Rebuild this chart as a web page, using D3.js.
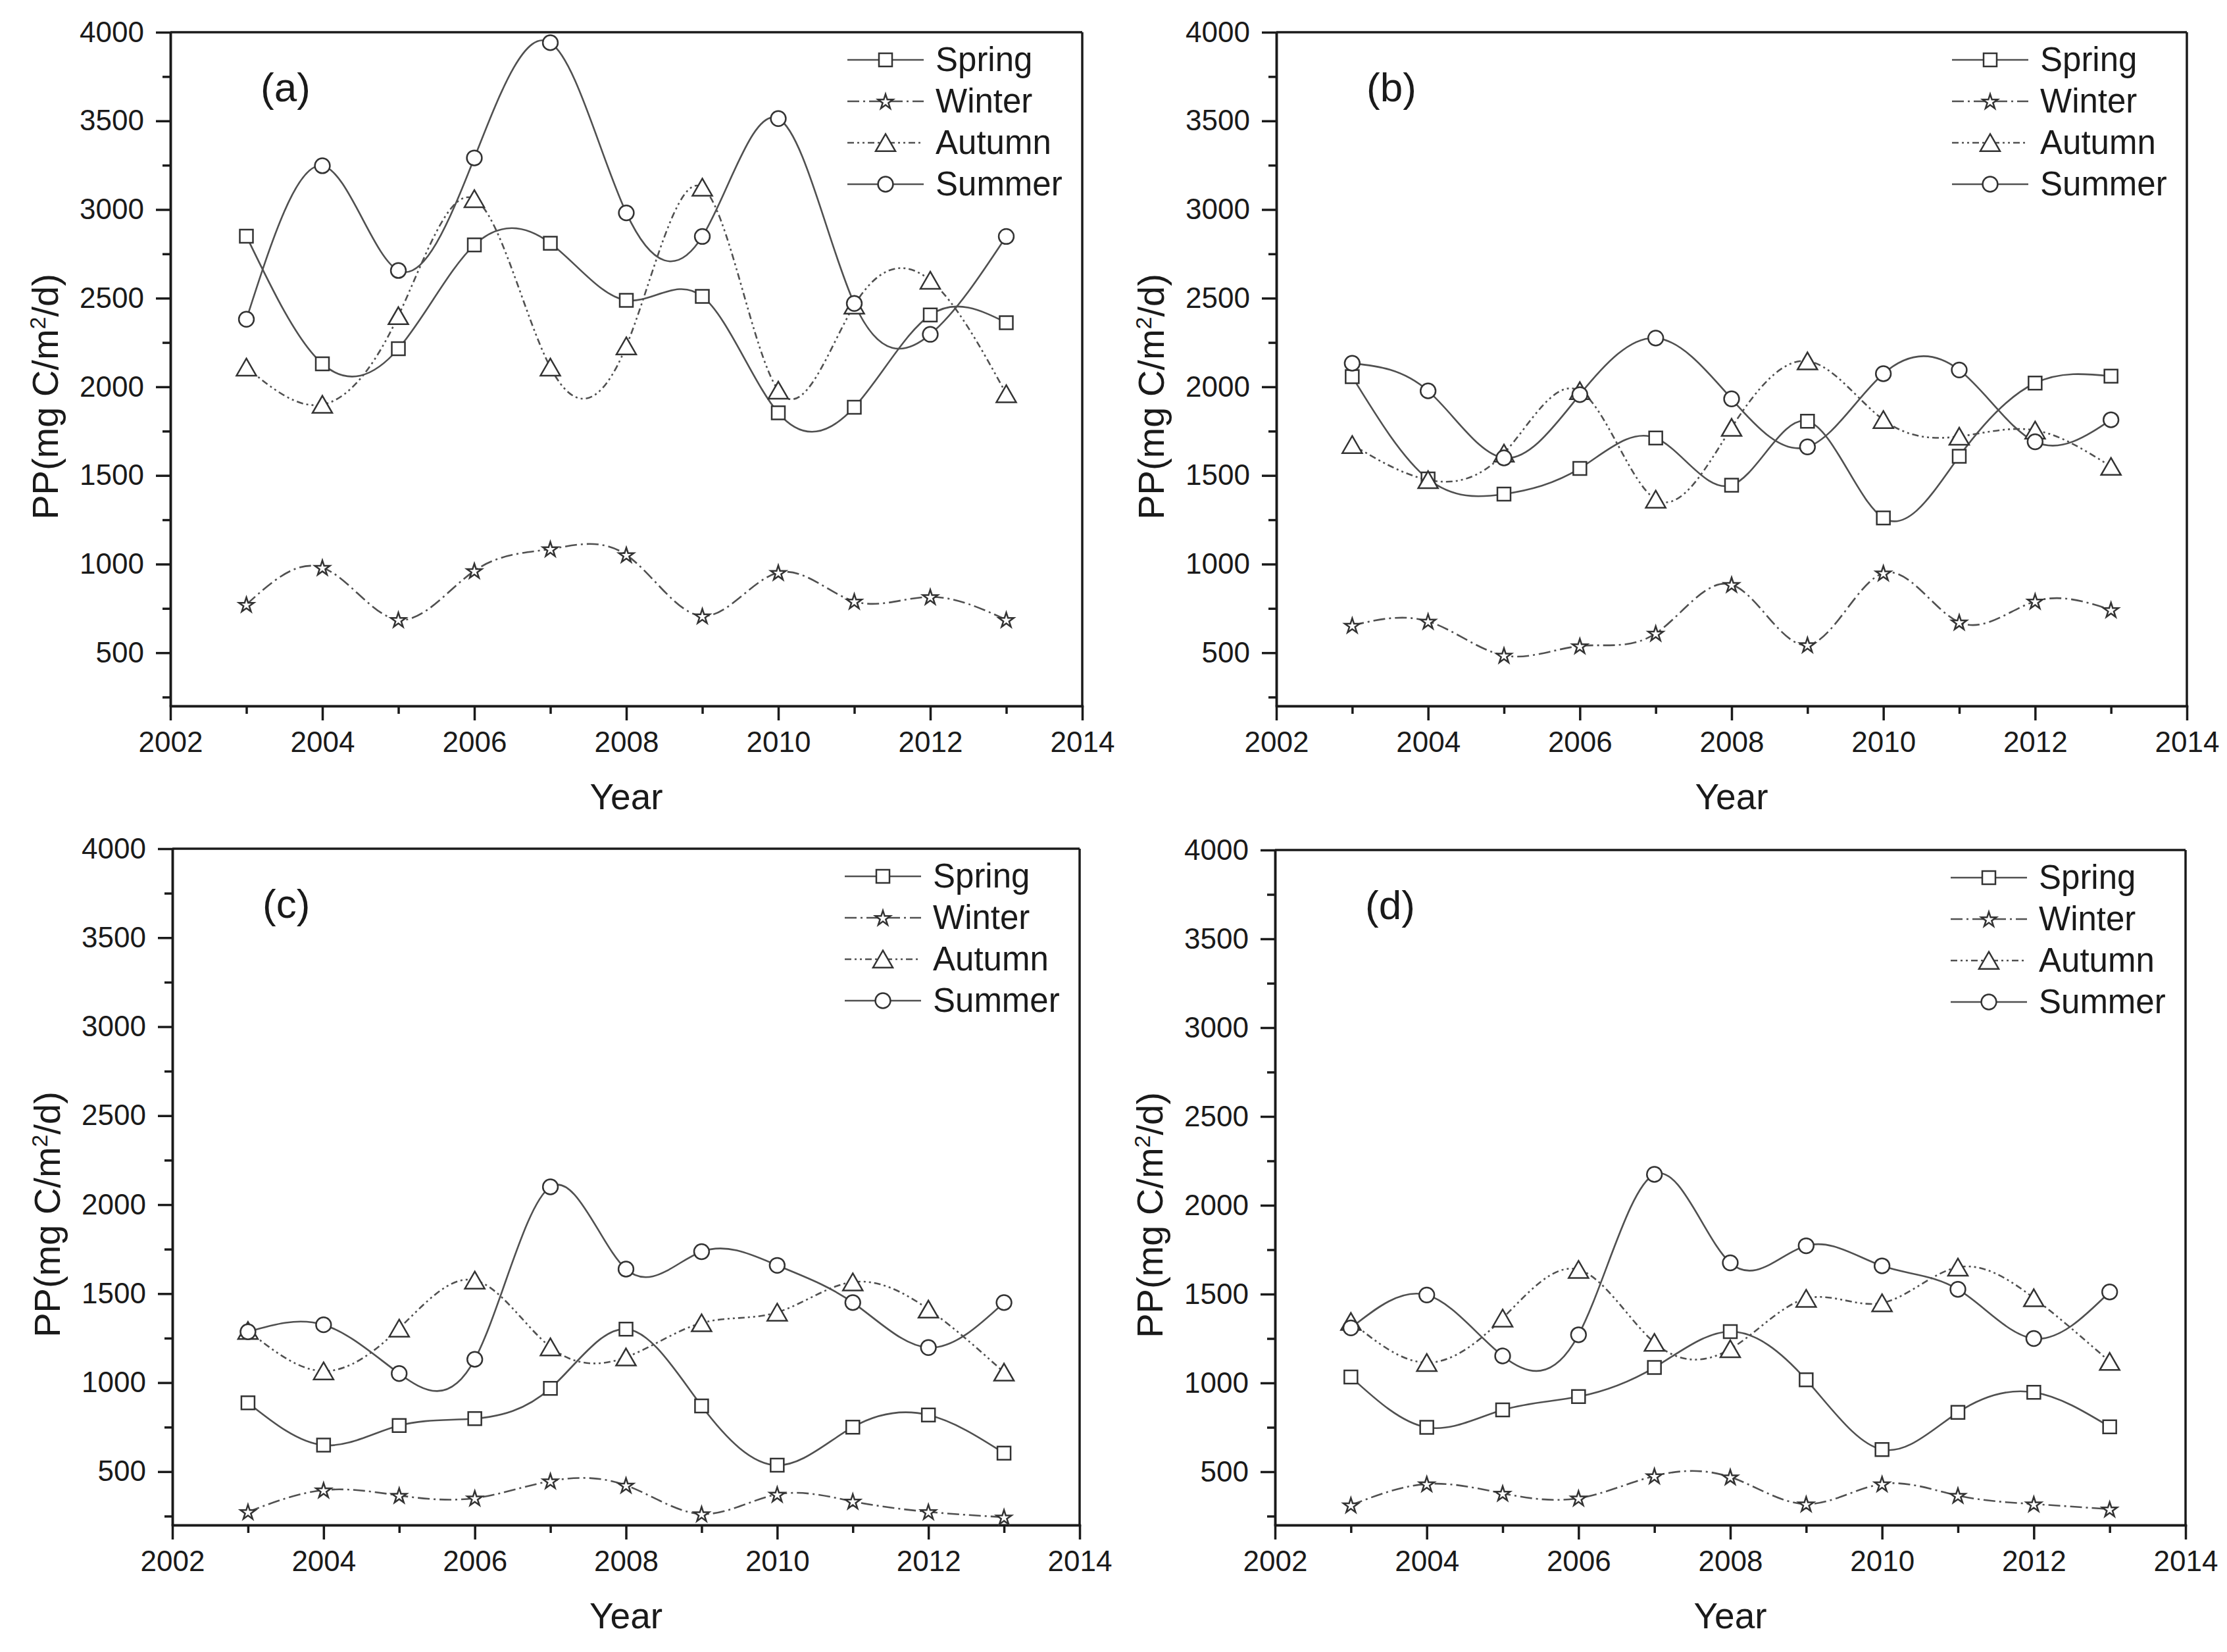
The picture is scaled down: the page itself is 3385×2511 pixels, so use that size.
<!DOCTYPE html>
<html>
<head>
<meta charset="utf-8">
<script src="https://cdn.jsdelivr.net/npm/d3@7"></script>
<style>
  html, body { margin: 0; padding: 0; background: #ffffff; }
  svg { display: block; }
  text { font-family: "Liberation Sans", Arial, Helvetica, sans-serif; fill: #1a1a1a; }
</style>
</head>
<body>
<svg id="chart" width="3385" height="2511"></svg>
<script>
// ---------------- DATA ----------------
const years = [2003, 2004, 2005, 2006, 2007, 2008, 2009, 2010, 2011, 2012, 2013];
const seriesNames = ["Spring", "Winter", "Autumn", "Summer"];
const panelLabels = ["(a)", "(b)", "(c)", "(d)"];
const xMajorTicks = [2002, 2004, 2006, 2008, 2010, 2012, 2014];
const xMinorTicks = [2003, 2005, 2007, 2009, 2011, 2013];
const yMajorTicks = [500, 1000, 1500, 2000, 2500, 3000, 3500, 4000];
const yMinorTicks = [250, 750, 1250, 1750, 2250, 2750, 3250, 3750];
const yDomain = [200, 4000];
const xDomain = [2002, 2014];

// panel (a)
const springA = [2850, 2130, 2215, 2800, 2810, 2488, 2510, 1853, 1885, 2405, 2362];
const winterA = [772, 980, 686, 962, 1085, 1052, 707, 952, 790, 815, 686];
const autumnA = [2110, 1900, 2400, 3060, 2110, 2230, 3125, 1980, 2460, 2600, 1960];
const summerA = [2381, 3247, 2656, 3291, 3941, 2981, 2848, 3513, 2470, 2296, 2848];
// panel (b)
const springB = [2057, 1480, 1395, 1540, 1711, 1445, 1806, 1260, 1608, 2021, 2060];
const winterB = [654, 677, 485, 538, 609, 884, 544, 949, 672, 790, 742];
const autumnB = [1673, 1475, 1625, 1977, 1365, 1770, 2145, 1814, 1720, 1755, 1550];
const summerB = [2133, 1977, 1599, 1956, 2275, 1932, 1661, 2074, 2095, 1690, 1814];
// panel (c)
const springC = [887, 649, 759, 798, 968, 1301, 869, 536, 750, 818, 604];
const winterC = [274, 396, 366, 351, 447, 423, 262, 372, 333, 274, 244];
const autumnC = [1292, 1065, 1305, 1575, 1200, 1143, 1335, 1395, 1565, 1412, 1058];
const summerC = [1286, 1325, 1051, 1131, 2100, 1638, 1736, 1659, 1450, 1197, 1450];
// panel (d)
const springD = [1033, 750, 848, 923, 1087, 1289, 1018, 625, 834, 947, 753];
const winterD = [312, 431, 378, 351, 476, 470, 318, 431, 366, 318, 289];
const autumnD = [1345, 1114, 1364, 1638, 1227, 1191, 1475, 1450, 1651, 1478, 1120];
const summerD = [1310, 1495, 1152, 1271, 2174, 1676, 1772, 1659, 1527, 1250, 1512];

// ---------------- LAYOUT / STYLE ----------------
const panels = [
  { left: 259,  right: 1645, top: 49,   bottom: 1073, series: [springA, winterA, autumnA, summerA], label: panelLabels[0] },
  { left: 1940, right: 3324, top: 49,   bottom: 1073, series: [springB, winterB, autumnB, summerB], label: panelLabels[1] },
  { left: 262,  right: 1641, top: 1290, bottom: 2318, series: [springC, winterC, autumnC, summerC], label: panelLabels[2] },
  { left: 1938, right: 3322, top: 1292, bottom: 2318, series: [springD, winterD, autumnD, summerD], label: panelLabels[3] }
];
const seriesDash = [null, "18 6 3 6", "10 5 3 5 3 5", null];
const seriesSymbol = [
  { type: d3.symbolSquare, size: 400, dy: 0 },
  { type: d3.symbolStar, size: 160, dy: 1 },
  { type: d3.symbolTriangle, size: 390, dy: 4 },
  { type: d3.symbolCircle, size: 410, dy: 0 }
];
const LINE_COLOR = "#505050";
const MARK_COLOR = "#333333";
const AXIS_COLOR = "#1a1a1a";

const svg = d3.select("#chart");

panels.forEach((p) => {
  const x = d3.scaleLinear().domain(xDomain).range([p.left, p.right]);
  const y = d3.scaleLinear().domain(yDomain).range([p.bottom, p.top]);
  const g = svg.append("g");

  // frame (top & right)
  g.append("line").attr("x1", p.left).attr("x2", p.right).attr("y1", p.top).attr("y2", p.top)
    .attr("stroke", AXIS_COLOR).attr("stroke-width", 3.5);
  g.append("line").attr("x1", p.right).attr("x2", p.right).attr("y1", p.top).attr("y2", p.bottom)
    .attr("stroke", AXIS_COLOR).attr("stroke-width", 3.5);

  // x axis
  const xAxisMinor = d3.axisBottom(x).tickValues(xMinorTicks).tickSize(12).tickSizeOuter(0).tickFormat("");
  const xAxisMajor = d3.axisBottom(x).tickValues(xMajorTicks).tickSize(22).tickSizeOuter(0)
    .tickPadding(17).tickFormat(d3.format("d"));
  const gxm = g.append("g").attr("transform", `translate(0,${p.bottom})`).call(xAxisMinor);
  const gx = g.append("g").attr("transform", `translate(0,${p.bottom})`).call(xAxisMajor);

  // y axis
  const yAxisMinor = d3.axisLeft(y).tickValues(yMinorTicks).tickSize(12).tickSizeOuter(0).tickFormat("");
  const yAxisMajor = d3.axisLeft(y).tickValues(yMajorTicks).tickSize(22).tickSizeOuter(0)
    .tickPadding(18).tickFormat(d3.format("d"));
  const gym = g.append("g").attr("transform", `translate(${p.left},0)`).call(yAxisMinor);
  const gy = g.append("g").attr("transform", `translate(${p.left},0)`).call(yAxisMajor);

  [gxm, gx, gym, gy].forEach(a => {
    a.selectAll("path.domain").attr("stroke", AXIS_COLOR).attr("stroke-width", 3.5);
    a.selectAll(".tick line").attr("stroke", AXIS_COLOR).attr("stroke-width", 3.5);
    a.selectAll(".tick text").attr("font-size", 44).attr("fill", "#1a1a1a")
      .attr("font-family", '"Liberation Sans", Arial, sans-serif');
  });
  gx.select("path.domain").attr("stroke-linecap", "square");

  // axis titles
  g.append("text")
    .attr("x", (p.left + p.right) / 2)
    .attr("y", p.bottom + 157)
    .attr("text-anchor", "middle")
    .attr("font-size", 55)
    .text("Year");

  const yt = g.append("text")
    .attr("transform", `translate(${p.left - 171},${(p.top + p.bottom) / 2 + 42}) rotate(-90)`)
    .attr("text-anchor", "middle")
    .attr("font-size", 56);
  yt.append("tspan").text("PP(mg C/m");
  yt.append("tspan").attr("baseline-shift", "super").attr("font-size", 34).text("2");
  yt.append("tspan").text("/d)");

  // panel letter
  g.append("text")
    .attr("x", p.left + 137)
    .attr("y", p.top + 105)
    .attr("font-size", 62)
    .text(p.label);

  // curves
  const line = d3.line()
    .x((d, i) => x(years[i]))
    .y(d => y(d))
    .curve(d3.curveNatural);

  p.series.forEach((vals, si) => {
    g.append("path")
      .datum(vals)
      .attr("d", line)
      .attr("fill", "none")
      .attr("stroke", LINE_COLOR)
      .attr("stroke-width", 2.6)
      .attr("stroke-dasharray", seriesDash[si]);
  });

  // markers
  p.series.forEach((vals, si) => {
    const sym = seriesSymbol[si];
    const gen = d3.symbol().type(sym.type).size(sym.size);
    g.append("g").selectAll("path")
      .data(vals)
      .join("path")
      .attr("transform", (d, i) => `translate(${x(years[i])},${y(d) + sym.dy})`)
      .attr("d", gen())
      .attr("fill", "#ffffff")
      .attr("stroke", MARK_COLOR)
      .attr("stroke-width", 2.5);
  });

  // legend
  const legX0 = p.right - 357, legX1 = p.right - 241, legMid = (legX0 + legX1) / 2, legText = p.right - 223;
  seriesNames.forEach((name, si) => {
    const ry = p.top + 42 + si * 63;
    const lg = g.append("g");
    lg.append("line")
      .attr("x1", legX0).attr("x2", legX1).attr("y1", ry).attr("y2", ry)
      .attr("stroke", LINE_COLOR).attr("stroke-width", 2.6)
      .attr("stroke-dasharray", seriesDash[si]);
    const sym = seriesSymbol[si];
    lg.append("path")
      .attr("transform", `translate(${legMid},${ry + sym.dy})`)
      .attr("d", d3.symbol().type(sym.type).size(sym.size)())
      .attr("fill", "#ffffff").attr("stroke", MARK_COLOR).attr("stroke-width", 2.5);
    lg.append("text")
      .attr("x", legText)
      .attr("y", ry + 17)
      .attr("font-size", 51)
      .text(name);
  });
});
</script>
</body>
</html>
